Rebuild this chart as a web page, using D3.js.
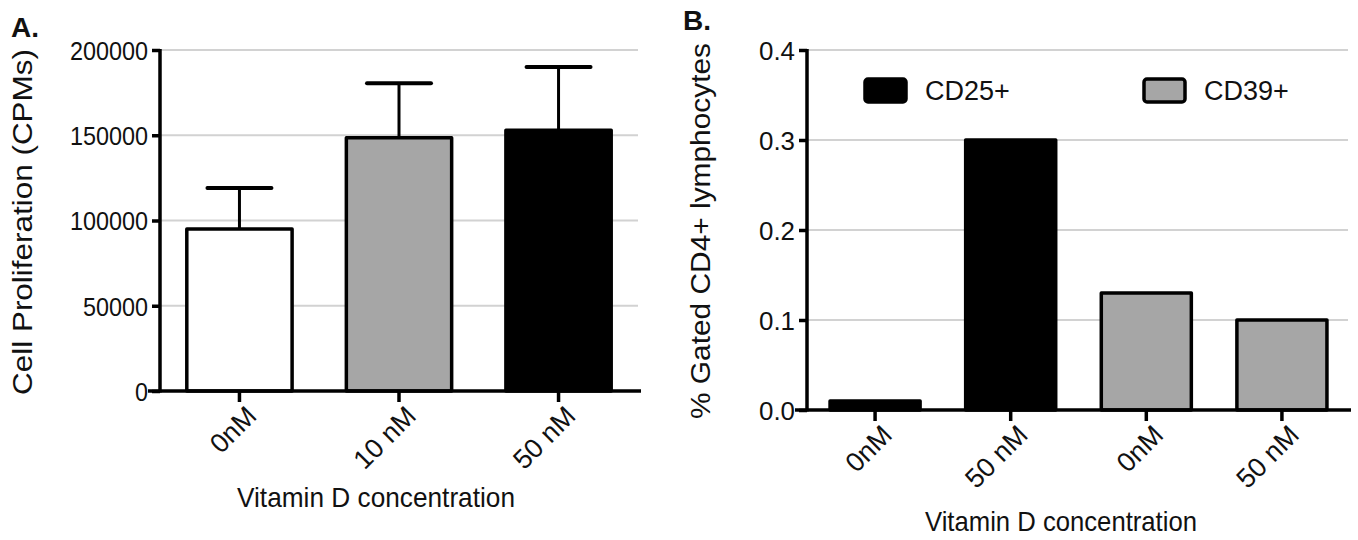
<!DOCTYPE html>
<html>
<head>
<meta charset="utf-8">
<script src="https://cdn.jsdelivr.net/npm/d3@7"></script>
<style>
  body { margin: 0; background: #fff; }
  text { font-family: "Liberation Sans", Arial, sans-serif; fill: #111; }
</style>
</head>
<body>
<div id="chart"></div>
<script>
// panel A data
var catsA = ["0nM", "10 nM", "50 nM"];
var valsA = [95000, 148500, 153000];
var errA = [24000, 32000, 37000];
var fillA = ["#ffffff", "#a6a6a6", "#000000"];
var ticksA = [0, 50000, 100000, 150000, 200000];

// panel B data
var catsB = ["0nM", "50 nM", "0nM", "50 nM"];
var valsB = [0.01, 0.30, 0.13, 0.10];
var groupB = ["CD25+", "CD25+", "CD39+", "CD39+"];
var ticksB = [0, 0.1, 0.2, 0.3, 0.4];
var legendB = ["CD25+", "CD39+"];
var colorB = {"CD25+": "#000000", "CD39+": "#a6a6a6"};

var width = 1358, height = 540;

var svg = d3.select("#chart").append("svg")
    .attr("width", width)
    .attr("height", height)

function panel(opt) {
    var g = svg.append("g")

    var x = d3.scaleBand()
        .domain(d3.range(opt.cats.length))
        .range([opt.x0, opt.x1])
        .paddingInner(opt.pIn)
        .paddingOuter(opt.pOut)

    var y = d3.scaleLinear()
        .domain([0, opt.ticks[opt.ticks.length - 1]])
        .range([opt.y0, opt.y1])

    // gridlines
    g.selectAll(".grid")
        .data(opt.ticks.slice(1))
        .enter().append("line")
        .attr("x1", opt.x0)
        .attr("x2", opt.gridEnd)
        .attr("y1", function(d) { return y(d) })
        .attr("y2", function(d) { return y(d) })
        .attr("stroke", "#d2d2d2")
        .attr("stroke-width", 2)

    // bars
    g.selectAll(".bar")
        .data(opt.vals)
        .enter().append("rect")
        .attr("x", function(d, i) { return x(i) })
        .attr("y", function(d) { return y(d) })
        .attr("width", x.bandwidth())
        .attr("height", function(d) { return y(0) - y(d) })
        .attr("fill", function(d, i) { return opt.fill[i] })
        .attr("stroke", "#000")
        .attr("stroke-width", 3.5)
        .attr("stroke-linejoin", "round")

    // error bars (upper only)
    if (opt.err) {
        opt.vals.forEach(function(v, i) {
            var cx = x(i) + x.bandwidth() / 2
            g.append("line")
                .attr("x1", cx).attr("x2", cx)
                .attr("y1", y(v)).attr("y2", y(v + opt.err[i]))
                .attr("stroke", "#000").attr("stroke-width", 3)
            g.append("line")
                .attr("x1", cx - 32).attr("x2", cx + 32)
                .attr("y1", y(v + opt.err[i])).attr("y2", y(v + opt.err[i]))
                .attr("stroke", "#000").attr("stroke-width", 4)
                .attr("stroke-linecap", "round")
        })
    }

    // y axis
    var yAxis = g.append("g")
        .attr("transform", "translate(" + opt.x0 + ",0)")
        .call(d3.axisLeft(y).tickValues(opt.ticks).tickFormat(opt.fmt).tickSize(8).tickPadding(4))
    yAxis.select(".domain").remove()
    yAxis.selectAll(".tick line").attr("stroke-width", 3.5)
    yAxis.selectAll(".tick text")
        .style("font-size", "26px")
        .attr("dy", "0.36em")
        .each(function(d) {
            var t = d3.select(this)
            t.attr("textLength", t.text().length * opt.digitW).attr("lengthAdjust", "spacingAndGlyphs")
        })
    g.append("line")
        .attr("x1", opt.x0).attr("x2", opt.x0)
        .attr("y1", y.range()[1] - 1).attr("y2", opt.y0 + 1.5)
        .attr("stroke", "#000").attr("stroke-width", 3.5)

    // x axis
    var xAxis = g.append("g")
        .attr("transform", "translate(0," + opt.y0 + ")")
        .call(d3.axisBottom(x).tickSize(11).tickFormat(function(i) { return opt.cats[i] }))
    xAxis.select(".domain").remove()
    xAxis.selectAll(".tick line").attr("stroke-width", 3.5)
    xAxis.selectAll(".tick text")
        .style("font-size", "27px")
        .attr("x", 0).attr("y", 0).attr("dy", "0.35em")
        .attr("text-anchor", "end")
        .attr("transform", "translate(" + opt.lblDx + "," + opt.lblDy + ") rotate(-45)")
    g.append("line")
        .attr("x1", opt.x0 - 12).attr("x2", opt.axisEnd)
        .attr("y1", opt.y0).attr("y2", opt.y0)
        .attr("stroke", "#000").attr("stroke-width", 3.5)

    // titles
    g.append("text")
        .attr("transform", "translate(" + opt.yTitleX + "," + opt.yTitleY + ") rotate(-90)")
        .attr("text-anchor", "middle")
        .attr("textLength", opt.yTitleLen)
        .attr("lengthAdjust", "spacingAndGlyphs")
        .style("font-size", "27px")
        .text(opt.yTitle)

    g.append("text")
        .attr("x", opt.xTitleX).attr("y", opt.xTitleY)
        .attr("text-anchor", "middle")
        .attr("textLength", opt.xTitleLen)
        .attr("lengthAdjust", "spacingAndGlyphs")
        .style("font-size", "28px")
        .text("Vitamin D concentration")

    g.append("text")
        .attr("x", opt.tagX).attr("y", opt.tagY)
        .style("font-size", "28px")
        .style("font-weight", "bold")
        .text(opt.tag)

    return {g: g, x: x, y: y}
}

panel({
    cats: catsA, vals: valsA, err: errA, fill: fillA, ticks: ticksA,
    fmt: d3.format("d"), digitW: 13,
    x0: 160, x1: 638, pIn: 0.34, pOut: 0.168,
    y0: 391, y1: 50, gridEnd: 638, axisEnd: 641,
    lblDx: 12, lblDy: 20,
    yTitle: "Cell Proliferation (CPMs)", yTitleX: 32, yTitleY: 222, yTitleLen: 346,
    xTitleX: 376, xTitleY: 507, xTitleLen: 278,
    tag: "A.", tagX: 11, tagY: 37
})

var pb = panel({
    cats: catsB, vals: valsB, fill: groupB.map(function(k) { return colorB[k] }), ticks: ticksB,
    fmt: d3.format(".1f"), digitW: 12,
    x0: 807, x1: 1350, pIn: 0.336, pOut: 0.17,
    y0: 410, y1: 50, gridEnd: 1348, axisEnd: 1351,
    lblDx: 12, lblDy: 20,
    yTitle: "% Gated CD4+ lymphocytes", yTitleX: 710, yTitleY: 231, yTitleLen: 376,
    xTitleX: 1061, xTitleY: 531, xTitleLen: 272,
    tag: "B.", tagX: 683, tagY: 30
})

// legend
var leg = pb.g.selectAll(".leg")
    .data(legendB)
    .enter().append("g")
    .attr("transform", function(d, i) { return "translate(" + (865 + i * 279) + ",79)" })
leg.append("rect")
    .attr("width", 41).attr("height", 23)
    .attr("rx", 3)
    .attr("fill", function(d) { return colorB[d] })
    .attr("stroke", "#000").attr("stroke-width", 3.5)
leg.append("text")
    .attr("x", 60).attr("y", 21)
    .style("font-size", "27px")
    .text(function(d) { return d })
</script>
</body>
</html>
